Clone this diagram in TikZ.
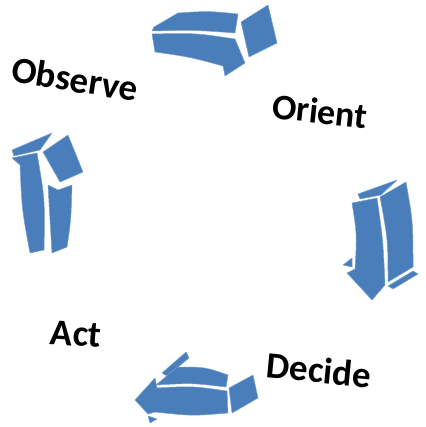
\documentclass[tikz,border=0pt]{standalone}
\usepackage{fontspec}
\setmainfont{Carlito}
\definecolor{arrowblue}{RGB}{74,126,187}
\definecolor{edgeblue}{RGB}{120,160,210}
\begin{document}
\begin{tikzpicture}[x=1pt,y=-1pt,
  face/.style={fill=arrowblue, draw=edgeblue, line width=0.5pt, line join=round},
  lbl/.style={font=\bfseries\fontsize{37}{37}\selectfont, inner sep=0pt, text=black}]
\useasboundingbox (0,0) rectangle (425,427);
% top arrow
\path[face] (154,27) -- (178,13) .. controls (208,11) .. (238,14) -- (235,33) .. controls (195,30) .. (152,31) -- cycle;
\path[face] (152,34) .. controls (195,33) .. (235,39) -- (245,63) -- (225,76) -- (223,66) .. controls (190,57) .. (155,52) -- cycle;
\path[face] (241,22) -- (268,5) -- (277,43) -- (249,57) -- cycle;
% right arrow
\path[face] (358,194) -- (397,180) -- (381,195) -- (360,199) -- cycle;
\path[face] (352,203) -- (377,198) .. controls (383,240) .. (385,285) -- (372,300) -- (347,273) -- (355,269) .. controls (357,235) .. (352,203) -- cycle;
\path[face] (343,265) -- (352,258) -- (352,267) -- cycle;
\path[face] (380,197) -- (406,182) .. controls (413,222) .. (413,267) -- (388,282) .. controls (388,240) .. (380,197) -- cycle;
\path[face] (388,286) -- (413,271) -- (418,274) -- (393,289) -- cycle;
% bottom arrow
\path[face] (162,373) -- (186,352) -- (189,358) -- (167,376) -- cycle;
\path[face] (162,380) -- (177,367) .. controls (205,367) .. (228,375) -- (226,387) .. controls (192,383) .. (156,385) -- cycle;
\path[face] (135,400) -- (155,378) -- (157,388) .. controls (192,386) .. (227,391) -- (228,413) .. controls (192,416) .. (155,412) -- (148,414) -- cycle;
\path[face] (148,416) -- (157,419) -- (150,423) -- cycle;
\path[face] (229,388) -- (253,375) -- (258,398) -- (232,413) -- cycle;
% left arrow
\path[face] (12,150) -- (52,133) -- (40,150) -- (14,156) -- cycle;
\path[face] (43,152) -- (68,135) -- (83,172) -- (60,182) -- cycle;
\path[face] (12,158) -- (37,153) .. controls (45,200) .. (44,250) -- (30,253) .. controls (22,210) .. (20,165) -- cycle;
\path[face] (48,185) -- (58,190) -- (72,185) .. controls (71,220) .. (67,247) -- (52,253) .. controls (50,220) .. (48,185) -- cycle;
% labels
\node[lbl, rotate=-9] (observe) at (75,79) {Observe};
\node[lbl, rotate=-6, font=\bfseries\fontsize{36}{36}\selectfont] (orient) at (320,111) {Orient};
\node[lbl, rotate=-5.5] (decide) at (319,370) {Decide};
\node[lbl, rotate=-4] (act) at (76,334) {Act};
\end{tikzpicture}
\end{document}
